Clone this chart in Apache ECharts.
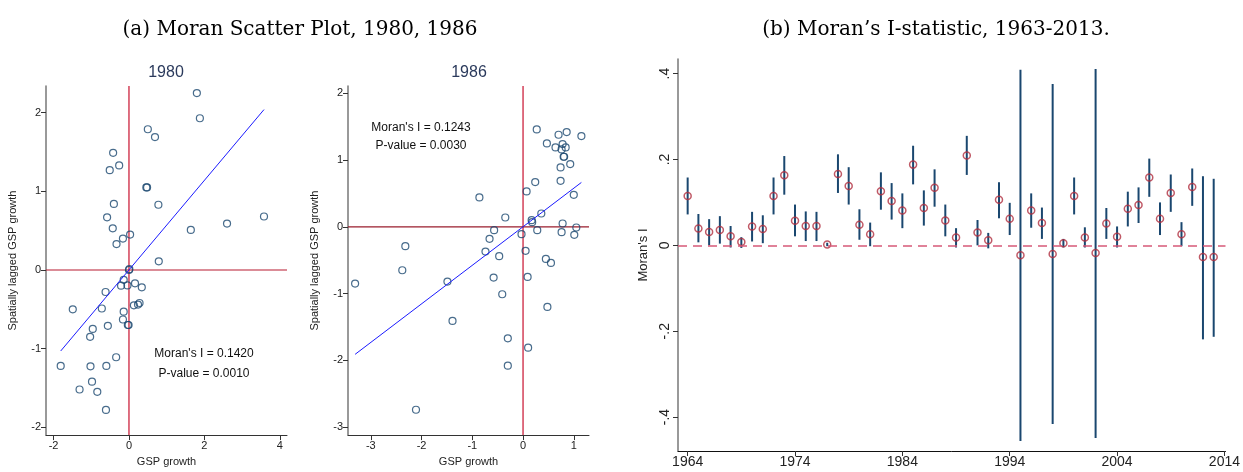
<!DOCTYPE html>
<html lang="en">
  <head>
    <meta charset="UTF-8" />
    <title>moran</title>
    <style>
      html, body { margin: 0; padding: 0; background: #fff; }
      main { width: 1243px; height: 472px; }
    </style>
  </head>
  <body>
    <main></main>
  </body>
</html>
<script src="https://cdn.jsdelivr.net/npm/echarts@6/dist/echarts.min.js"></script>
<script>
  // panel (a) 1980
  var gsp1980 = [1.80, 1.88, 0.50, 0.69, -0.42, -0.51, -0.26, 0.46, 0.48, -0.40, 0.78, -0.58, -0.43, 3.58, 2.60, 1.64, 0.03, -0.16, -0.33, 0.79,
    0, 0.01, -0.14, -0.21, -0.04, 0.16, 0.34, -0.62, -1.49, -0.72, -0.14, 0.28, 0.24, 0.13, -0.16, -0.56, -0.03, -0.01, -0.96, -1.03, -1.81, -1.02, -0.60, -0.34, -0.98, -1.31, -0.84, -0.61];
  var lag1980 = [2.25, 1.93, 1.79, 1.69, 1.49, 1.27, 1.33, 1.05, 1.05, 0.84, 0.83, 0.67, 0.53, 0.68, 0.59, 0.51, 0.45, 0.40, 0.33, 0.11,
    0, 0.01, -0.125, -0.2, -0.196, -0.17, -0.22, -0.28, -0.5, -0.49, -0.53, -0.42, -0.44, -0.45, -0.63, -0.71, -0.70, -0.70, -0.75, -0.85, -1.22, -1.225, -1.22, -1.11, -1.42, -1.52, -1.55, -1.78];
  var fit1980X = [-1.81, 3.58];
  var fit1980Y = [-1.03, 2.04];

  // panel (a) 1986
  var gsp1986 = [0.27, 0.70, 0.86, 1.15, 0.47, 0.78, 0.64, 0.84, 0.76, 0.80, 0.81, 0.74, 0.93, 0.24, 0.74, 0.07, -0.86, 1.0, 0.36, -0.35, 0.17, 0.18, 0.78, -0.57, 0.28, 0.76, 1.05, 1.01, -0.03, -0.66, -2.32, -0.74, 0.05, -0.47, 0.45, 0.55,
    -3.31, -2.38, -1.49, -0.58, 0.09, -0.41, 0.48, -1.39, -0.30, 0.10, -0.30, -2.11];
  var lag1986 = [1.46, 1.38, 1.42, 1.36, 1.25, 1.24, 1.19, 1.19, 1.16, 1.05, 1.05, 0.89, 0.94, 0.67, 0.69, 0.53, 0.44, 0.48, 0.20, 0.14, 0.10, 0.07, 0.05, -0.05, -0.05, -0.08, -0.01, -0.12, -0.11, -0.18, -0.29, -0.37, -0.36, -0.44, -0.48, -0.54,
    -0.85, -0.65, -0.82, -0.76, -0.75, -1.01, -1.2, -1.41, -1.67, -1.81, -2.08, -2.74];
  var fit1986X = [-3.31, 1.15];
  var fit1986Y = [-1.91, 0.665];

  // panel (b)
  var years = [1964, 1965, 1966, 1967, 1968, 1969, 1970, 1971, 1972, 1973, 1974, 1975, 1976, 1977, 1978, 1979, 1980, 1981, 1982, 1983,
    1984, 1985, 1986, 1987, 1988, 1989, 1990, 1991, 1992, 1993, 1994, 1995, 1996, 1997, 1998, 1999, 2000, 2001, 2002, 2003,
    2004, 2005, 2006, 2007, 2008, 2009, 2010, 2011, 2012, 2013];
  var moranI = [0.115, 0.039, 0.031, 0.036, 0.021, 0.008, 0.044, 0.038, 0.115, 0.163, 0.057, 0.045, 0.045, 0.002, 0.166, 0.138, 0.048, 0.026, 0.126, 0.103,
    0.081, 0.188, 0.087, 0.134, 0.058, 0.018, 0.209, 0.03, 0.012, 0.106, 0.062, -0.023, 0.081, 0.052, -0.02, 0.005, 0.115, 0.018, -0.018, 0.051,
    0.02, 0.085, 0.094, 0.158, 0.062, 0.122, 0.026, 0.136, -0.027, -0.027];
  var ciHigh = [0.158, 0.073, 0.061, 0.068, 0.045, 0.019, 0.078, 0.07, 0.158, 0.208, 0.095, 0.079, 0.078, 0.006, 0.212, 0.182, 0.084, 0.053, 0.17, 0.145,
    0.121, 0.232, 0.128, 0.177, 0.095, 0.04, 0.255, 0.059, 0.029, 0.147, 0.099, 0.409, 0.121, 0.088, 0.376, 0.015, 0.158, 0.042, 0.411, 0.087,
    0.044, 0.125, 0.135, 0.202, 0.1, 0.165, 0.054, 0.179, 0.161, 0.155];
  var ciLow = [0.072, 0.007, 0, 0.004, -0.005, -0.006, 0.009, 0.005, 0.072, 0.118, 0.021, 0.01, 0.01, -0.002, 0.122, 0.095, 0.013, -0.002, 0.083, 0.06,
    0.04, 0.142, 0.046, 0.09, 0.021, -0.005, 0.164, 0, -0.007, 0.063, 0.024, -0.456, 0.041, 0.015, -0.416, -0.005, 0.072, -0.005, -0.449, 0.015,
    -0.005, 0.044, 0.052, 0.113, 0.024, 0.078, -0.002, 0.092, -0.219, -0.213];

  var scatterTicksX1 = [-2, 0, 2, 4];
  var scatterTicksY1 = [-2, -1, 0, 1, 2];
  var scatterTicksX2 = [-3, -2, -1, 0, 1];
  var scatterTicksY2 = [-3, -2, -1, 0, 1, 2];
  var yearTicks = [1964, 1974, 1984, 1994, 2004, 2014];
  var moranTicks = [-0.4, -0.2, 0, 0.2, 0.4];

  var sans = "Liberation Sans, Arial, sans-serif";
  var navy = "#1a476f";
  var crimson = "#c8102e";

  function zip(a, b) {
    return a.map(function (v, i) { return [v, b[i]]; });
  }

  function valueAxis(idx, min, max, ticks, name, gap, extra) {
    var ax = {
      type: "value",
      gridIndex: idx,
      min: min,
      max: max,
      name: name,
      nameLocation: "middle",
      nameGap: gap,
      nameTextStyle: { fontFamily: sans, fontSize: 11, color: "#222" },
      splitLine: { show: false },
      axisLine: { show: true, onZero: false, lineStyle: { color: "#555", width: 1 } },
      axisTick: { show: true, length: 5, customValues: ticks, lineStyle: { color: "#333" } },
      axisLabel: {
        customValues: ticks,
        fontFamily: sans,
        fontSize: 11,
        color: "#222",
        margin: 5
      }
    };
    if (extra) {
      for (var k in extra) ax[k] = Object.assign({}, ax[k], extra[k]);
    }
    return ax;
  }

  // red reference lines through the origin, spanning the whole plot area
  function originLines(idx, vColor, hColor) {
    return {
      type: "custom",
      xAxisIndex: idx,
      yAxisIndex: idx,
      silent: true,
      data: [[0, 0]],
      renderItem: function (params, api) {
        var cs = params.coordSys;
        var o = api.coord([api.value(0), api.value(1)]);
        return {
          type: "group",
          children: [
            { type: "line", shape: { x1: o[0], y1: cs.y, x2: o[0], y2: cs.y + cs.height }, style: { stroke: vColor, lineWidth: 1.2 } },
            { type: "line", shape: { x1: cs.x, y1: o[1], x2: cs.x + cs.width, y2: o[1] }, style: { stroke: hColor, lineWidth: 1.2 } }
          ]
        };
      },
      z: 1
    };
  }

  var chart = echarts.init(document.querySelector("main"));
  var option = {
    animation: false,
    grid: [
      { left: 46, top: 86, width: 241, height: 355 },
      { left: 348, top: 86, width: 241, height: 355 },
      { left: 678, top: 59, width: 548, height: 392 }
    ],
    xAxis: [
      valueAxis(0, -2.2, 4.19, scatterTicksX1, "GSP growth", 18, { axisLine: { lineStyle: { color: "#333", width: 1 } } }),
      valueAxis(1, -3.45, 1.3, scatterTicksX2, "GSP growth", 18, { axisLine: { lineStyle: { color: "#333", width: 1 } } }),
      valueAxis(2, 1963.1, 2014.1, yearTicks, "", 0, {
        axisLine: { lineStyle: { color: "#111", width: 1 } },
        axisLabel: { fontSize: 14, margin: 4, formatter: function (v) { return String(v); } }
      })
    ],
    yAxis: [
      valueAxis(0, -2.1, 2.34, scatterTicksY1, "Spatially lagged GSP growth", 28, { axisLine: { lineStyle: { color: "#777", width: 1.5 } } }),
      valueAxis(1, -3.12, 2.11, scatterTicksY2, "Spatially lagged GSP growth", 28, { axisLine: { lineStyle: { color: "#777", width: 1.5 } } }),
      valueAxis(2, -0.479, 0.434, moranTicks, "Moran's I", 28, {
        axisLine: { lineStyle: { color: "#777", width: 1.5 } },
        nameTextStyle: { fontSize: 13 },
        axisLabel: {
          fontSize: 14,
          rotate: 90,
          margin: 6,
          formatter: function (v) {
            if (v === 0) return "0";
            return String(v).replace("0.", ".");
          }
        }
      })
    ],
    series: [
      originLines(0, crimson, "#b81a30"),
      {
        type: "scatter",
        xAxisIndex: 0,
        yAxisIndex: 0,
        symbol: "circle",
        symbolSize: 7,
        itemStyle: { color: "rgba(0,0,0,0)", borderColor: navy, borderWidth: 1.2 },
        data: zip(gsp1980, lag1980),
        z: 3
      },
      {
        type: "line",
        xAxisIndex: 0,
        yAxisIndex: 0,
        symbol: "none",
        lineStyle: { color: "#1a1aff", width: 1 },
        data: zip(fit1980X, fit1980Y),
        z: 4
      },
      originLines(1, crimson, "#9a1c2c"),
      {
        type: "scatter",
        xAxisIndex: 1,
        yAxisIndex: 1,
        symbol: "circle",
        symbolSize: 7,
        itemStyle: { color: "rgba(0,0,0,0)", borderColor: navy, borderWidth: 1.2 },
        data: zip(gsp1986, lag1986),
        z: 3
      },
      {
        type: "line",
        xAxisIndex: 1,
        yAxisIndex: 1,
        symbol: "none",
        lineStyle: { color: "#1a1aff", width: 1 },
        data: zip(fit1986X, fit1986Y),
        z: 4
      },
      {
        type: "custom",
        xAxisIndex: 2,
        yAxisIndex: 2,
        data: years.map(function (y, i) { return [y, ciLow[i], ciHigh[i]]; }),
        renderItem: function (params, api) {
          var lo = api.coord([api.value(0), api.value(1)]);
          var hi = api.coord([api.value(0), api.value(2)]);
          return {
            type: "line",
            shape: { x1: lo[0], y1: lo[1], x2: hi[0], y2: hi[1] },
            style: { stroke: navy, lineWidth: 2 }
          };
        },
        z: 2
      },
      {
        type: "scatter",
        xAxisIndex: 2,
        yAxisIndex: 2,
        symbol: "circle",
        symbolSize: 7,
        itemStyle: { color: "rgba(0,0,0,0)", borderColor: "#b03040", borderWidth: 1.5 },
        data: zip(years, moranI),
        markLine: {
          silent: true,
          symbol: "none",
          label: { show: false },
          lineStyle: { color: "#d65a78", width: 1.6, type: [9, 6] },
          data: [{ yAxis: 0 }]
        },
        z: 3
      }
    ],
    graphic: [
      { type: "text", x: 300, y: 30, style: { text: "(a) Moran Scatter Plot, 1980, 1986", font: "20px DejaVu Serif", fill: "#000", textAlign: "center", textVerticalAlign: "middle" } },
      { type: "text", x: 936, y: 30, style: { text: "(b) Moran\u2019s I-statistic, 1963-2013.", font: "20px DejaVu Serif", fill: "#000", textAlign: "center", textVerticalAlign: "middle" } },
      { type: "text", x: 166, y: 73, style: { text: "1980", font: "16px " + sans, fill: "#2b3a5c", textAlign: "center", textVerticalAlign: "middle" } },
      { type: "text", x: 469, y: 73, style: { text: "1986", font: "16px " + sans, fill: "#2b3a5c", textAlign: "center", textVerticalAlign: "middle" } },
      { type: "text", x: 204, y: 354, style: { text: "Moran's I = 0.1420", font: "12px " + sans, fill: "#111", textAlign: "center", textVerticalAlign: "middle" } },
      { type: "text", x: 204, y: 374, style: { text: "P-value = 0.0010", font: "12px " + sans, fill: "#111", textAlign: "center", textVerticalAlign: "middle" } },
      { type: "text", x: 421, y: 128, style: { text: "Moran's I = 0.1243", font: "12px " + sans, fill: "#111", textAlign: "center", textVerticalAlign: "middle" } },
      { type: "text", x: 421, y: 146, style: { text: "P-value = 0.0030", font: "12px " + sans, fill: "#111", textAlign: "center", textVerticalAlign: "middle" } }
    ]
  };
  chart.setOption(option);
</script>
